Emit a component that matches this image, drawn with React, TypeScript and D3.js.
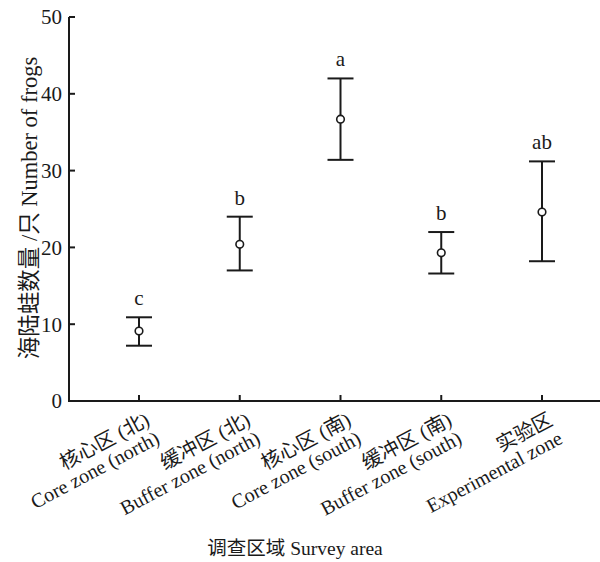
import { useRef, useEffect } from 'react';
import * as d3 from 'd3';

const AREAS_CN = ['核心区 (北)', '缓冲区 (北)', '核心区 (南)', '缓冲区 (南)', '实验区'];
const AREAS_EN = ['Core zone (north)', 'Buffer zone (north)', 'Core zone (south)', 'Buffer zone (south)', 'Experimental zone'];
const MEANS = [9.1, 20.4, 36.7, 19.3, 24.6];
const UPPER = [10.9, 24.0, 42.0, 22.0, 31.2];
const LOWER = [7.2, 17.0, 31.4, 16.6, 18.2];
const LETTERS = ['c', 'b', 'a', 'b', 'ab'];
const Y_TICKS = [0, 10, 20, 30, 40, 50];

const W = 600;
const H = 562;
const FONT = '"Liberation Serif", "Times New Roman", "Noto Sans CJK SC", serif';
const INK = '#1a1a1a';

export default function App() {
  const svgRef = useRef<SVGSVGElement>(null);

  useEffect(() => {
    const svg = d3.select(svgRef.current);
    svg.selectAll('*').remove();

    const left = 69;
    const right = 600;
    const top = 17;
    const bottom = 401;

    const x = d3.scalePoint<number>().domain(d3.range(MEANS.length)).range([139, 542]);
    const y = d3.scaleLinear().domain([0, 50]).range([bottom, top]);

    const g = svg.append('g').attr('font-family', FONT).attr('fill', INK);

    // axes lines
    g.append('line')
      .attr('x1', left).attr('x2', left).attr('y1', top).attr('y2', bottom)
      .attr('stroke', INK).attr('stroke-width', 2);
    g.append('line')
      .attr('x1', left - 1).attr('x2', right).attr('y1', bottom).attr('y2', bottom)
      .attr('stroke', INK).attr('stroke-width', 2);

    // y ticks (inward)
    const yt = g.selectAll('.yt').data(Y_TICKS).join('g').attr('class', 'yt')
      .attr('transform', (d) => `translate(${left},${y(d)})`);
    yt.append('line').attr('x1', 0).attr('x2', 6).attr('stroke', INK).attr('stroke-width', 2);
    yt.append('text')
      .attr('x', -7).attr('dy', '0.35em')
      .attr('text-anchor', 'end')
      .attr('font-size', 21)
      .text((d) => d);

    // x ticks (inward) and labels
    const xt = g.selectAll('.xt').data(d3.range(MEANS.length)).join('g').attr('class', 'xt')
      .attr('transform', (i) => `translate(${x(i)},${bottom})`);
    xt.append('line').attr('y1', 0).attr('y2', -6).attr('stroke', INK).attr('stroke-width', 2);
    const lbl = xt.append('text')
      .attr('transform', 'translate(12,23) rotate(-28)')
      .attr('text-anchor', 'end')
      .attr('font-size', 20);
    lbl.append('tspan').attr('x', 0).attr('dy', 0).text((i) => AREAS_CN[i]);
    lbl.append('tspan').attr('x', 0).attr('dy', '1.05em').text((i) => AREAS_EN[i]);

    // error bars
    const capW = 13;
    const bars = g.selectAll('.bar').data(d3.range(MEANS.length)).join('g').attr('class', 'bar')
      .attr('transform', (i) => `translate(${x(i)},0)`);
    bars.append('line')
      .attr('y1', (i) => y(UPPER[i])).attr('y2', (i) => y(LOWER[i]))
      .attr('stroke', INK).attr('stroke-width', 2);
    bars.append('line')
      .attr('x1', -capW).attr('x2', capW)
      .attr('y1', (i) => y(UPPER[i])).attr('y2', (i) => y(UPPER[i]))
      .attr('stroke', INK).attr('stroke-width', 2);
    bars.append('line')
      .attr('x1', -capW).attr('x2', capW)
      .attr('y1', (i) => y(LOWER[i])).attr('y2', (i) => y(LOWER[i]))
      .attr('stroke', INK).attr('stroke-width', 2);
    bars.append('circle')
      .attr('cy', (i) => y(MEANS[i])).attr('r', 3.8)
      .attr('fill', '#fff').attr('stroke', INK).attr('stroke-width', 1.6);
    bars.append('text')
      .attr('y', (i) => y(UPPER[i]) - 12)
      .attr('text-anchor', 'middle')
      .attr('font-size', 21)
      .text((i) => LETTERS[i]);

    // axis titles
    g.append('text')
      .attr('x', 295).attr('y', 555)
      .attr('text-anchor', 'middle')
      .attr('font-size', 19.5)
      .text('调查区域 Survey area');
    g.append('text')
      .attr('transform', `translate(37,208) rotate(-90)`)
      .attr('text-anchor', 'middle')
      .attr('font-size', 22.5)
      .text('海陆蛙数量 /只 Number of frogs');
  }, []);

  return (
    <svg
      ref={svgRef}
      width={W}
      height={H}
      style={{ position: 'absolute', left: 0, top: 0, background: '#fff' }}
    />
  );
}
